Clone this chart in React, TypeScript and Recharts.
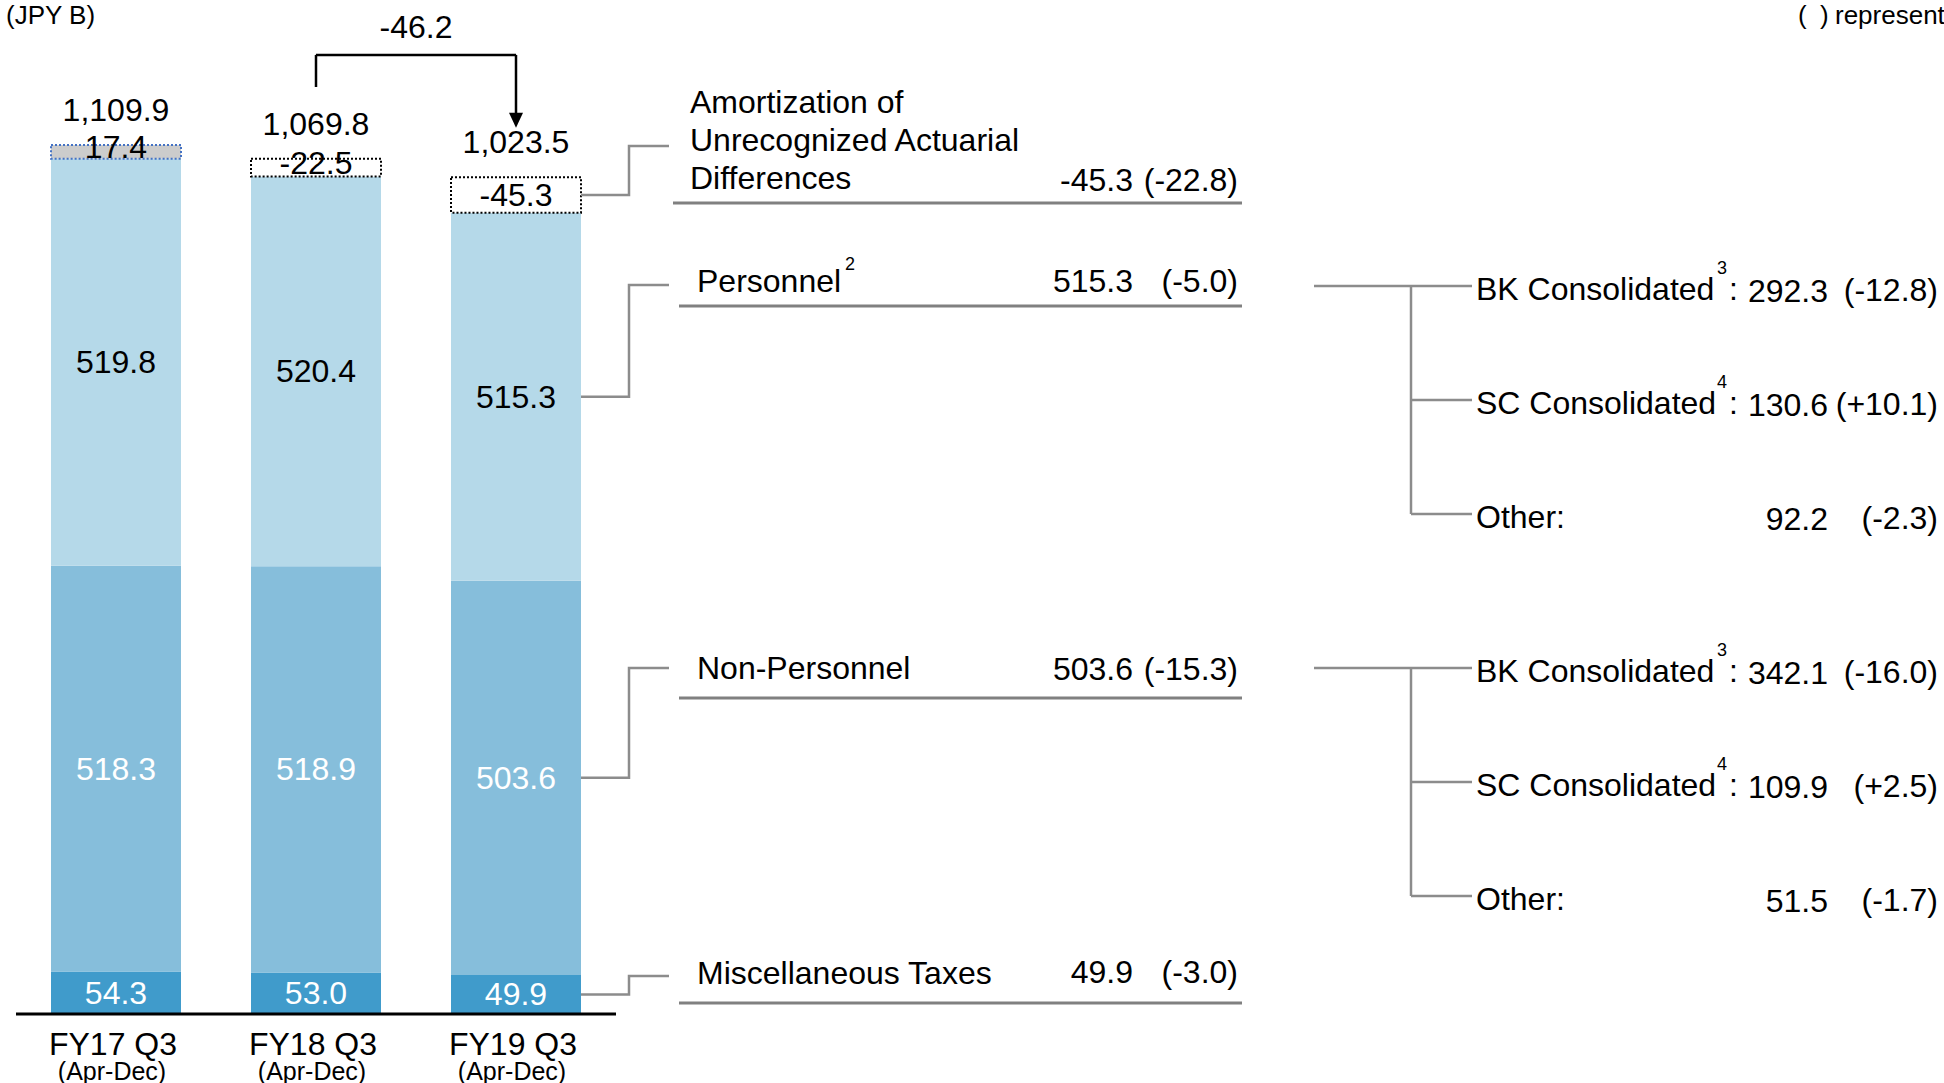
import { BarChart, Bar, XAxis, YAxis, LabelList, Cell, ReferenceLine } from 'recharts';

const categories = ['FY17 Q3', 'FY18 Q3', 'FY19 Q3'];
const periodLabel = '(Apr-Dec)';
const miscTaxes = [54.3, 53.0, 49.9];
const nonPersonnel = [518.3, 518.9, 503.6];
const personnel = [519.8, 520.4, 515.3];
const amortization = [17.4, -22.5, -45.3];
const totals = [1109.9, 1069.8, 1023.5];
const totalChange = '-46.2';

// right-hand breakdown (FY19 Q3 values, YoY change in brackets)
const segmentTitles = [
  ['Amortization of', 'Unrecognized Actuarial', 'Differences'],
  ['Personnel'],
  ['Non-Personnel'],
  ['Miscellaneous Taxes'],
];
const segmentNotes = ['', '2', '', ''];
const segmentValues = [-45.3, 515.3, 503.6, 49.9];
const segmentChanges = ['-22.8', '-5.0', '-15.3', '-3.0'];

const subNames = ['BK Consolidated', 'SC Consolidated', 'Other:'];
const subNotes = ['3', '4', ''];
const personnelSubValues = [292.3, 130.6, 92.2];
const personnelSubChanges = ['-12.8', '+10.1', '-2.3'];
const nonPersonnelSubValues = [342.1, 109.9, 51.5];
const nonPersonnelSubChanges = ['-16.0', '+2.5', '-1.7'];

const data = categories.map((name, i) => ({
  name,
  misc: miscTaxes[i],
  nonPersonnel: nonPersonnel[i],
  personnelShown: personnel[i] + Math.min(amortization[i], 0),
  amortBox: Math.abs(amortization[i]),
}));

const FONT = '"Liberation Sans", Arial, sans-serif';
const FS = 32;
const LIGHT = '#b5d9e9';
const MID = '#86bedb';
const DARK = '#409bcb';
const LINE_GREY = '#8c8c8c';

// y of each annotation row on the right (page px)
const rowY = [146, 285, 668, 976];
const rowBase = [191, 292, 680, 983];
const titleBase = [[113, 151, 189], [292], [679], [984]];
const underlineY = [203, 306, 698, 1003];

const fmtTotal = (v: number) =>
  v.toLocaleString('en-US', { minimumFractionDigits: 1, maximumFractionDigits: 1 });

const segLabel = (values: number[], color: string) => (props: any) => {
  const { x, y, width, height, index } = props;
  return (
    <text x={x + width / 2} y={y + height / 2 + 11} textAnchor="middle" fontSize={FS} fill={color} fontFamily={FONT}>
      {values[index].toFixed(1)}
    </text>
  );
};

const connector = (row: number) => (props: any) => {
  const { x, y, width, height, index } = props;
  if (index !== categories.length - 1) return null;
  const x0 = x + width;
  const y0 = y + height / 2;
  const xm = x0 + 48;
  return (
    <path d={`M${x0},${y0}H${xm}V${rowY[row]}H${xm + 40}`} fill="none" stroke={LINE_GREY} strokeWidth={2.5} />
  );
};

const amortLabel = (props: any) => {
  const { x, y, width, height, index } = props;
  const cy = y + height / 2 + 11 - (height < 25 ? 5 : 0);
  return (
    <g>
      <text x={x + width / 2} y={cy} textAnchor="middle" fontSize={FS} fill="#000" fontFamily={FONT}>
        {amortization[index].toFixed(1)}
      </text>
      <text x={x + width / 2} y={y - 35 + 11} textAnchor="middle" fontSize={FS} fill="#000" fontFamily={FONT}>
        {fmtTotal(totals[index])}
      </text>
    </g>
  );
};

const CategoryTick = (props: any) => {
  const { x, y, payload } = props;
  return (
    <g fontFamily={FONT} fill="#000">
      <text x={x - 3} y={y + 41} textAnchor="middle" fontSize={FS}>{payload.value}</text>
      <text x={x - 4} y={y + 66} textAnchor="middle" fontSize={25}>{periodLabel}</text>
    </g>
  );
};

const ArrowShape = (props: any) => {
  const { x1, y1, x2, y2 } = props;
  return (
    <g>
      <line x1={x1} y1={y1} x2={x2} y2={y2 - 12} stroke="#000" strokeWidth={2.5} />
      <polygon points={`${x2 - 7},${y2 - 15} ${x2 + 7},${y2 - 15} ${x2},${y2}`} fill="#000" />
    </g>
  );
};

// bracket levels in chart units
const bracketTop = 1225;
const bracketStart = 1184;
const arrowTip = 1132;

function SubTree({ top, values, changes }: { top: number; values: number[]; changes: string[] }) {
  const step = 114;
  const ys = subNames.map((_, i) => top + i * step);
  return (
    <g>
      <path d={`M1314,${top}H1411`} stroke={LINE_GREY} strokeWidth={2.5} fill="none" />
      <path d={`M1411,${top}V${ys[ys.length - 1]}`} stroke={LINE_GREY} strokeWidth={2.5} fill="none" />
      {ys.map((yy, i) => (
        <g key={i}>
          <path d={`M1411,${yy}H1472`} stroke={LINE_GREY} strokeWidth={2.5} fill="none" />
          <text x={1476} y={yy + 14} fontSize={FS}>{subNames[i]}</text>
          {subNotes[i] && (
            <text x={1722} y={yy - 12} fontSize={18} textAnchor="middle">{subNotes[i]}</text>
          )}
          {subNotes[i] && <text x={1729} y={yy + 14} fontSize={FS}>:</text>}
          <text x={1828} y={yy + 16} fontSize={FS} textAnchor="end">{values[i].toFixed(1)}</text>
          <text x={1938} y={yy + 15} fontSize={FS} textAnchor="end">({changes[i]})</text>
        </g>
      ))}
    </g>
  );
}

export default function App() {
  return (
    <div style={{ position: 'absolute', left: 0, top: 0, width: 1944, height: 1083, background: '#fff', overflow: 'hidden' }}>
      <div style={{ position: 'absolute', left: 0, top: 0 }}>
        <BarChart
          width={1944}
          height={1083}
          data={data}
          margin={{ top: 4, right: 1328, bottom: 0, left: 16 }}
          barSize={130}
        >
          <XAxis
            dataKey="name"
            axisLine={{ stroke: '#000', strokeWidth: 3 }}
            tickLine={false}
            tickSize={0}
            tickMargin={0}
            height={69}
            interval={0}
            tick={<CategoryTick />}
          />
          <YAxis hide domain={[0, 1290]} />
          <Bar dataKey="misc" stackId="a" fill={DARK} isAnimationActive={false}>
            <LabelList dataKey="misc" content={segLabel(miscTaxes, '#fff')} />
            <LabelList dataKey="misc" content={connector(3)} />
          </Bar>
          <Bar dataKey="nonPersonnel" stackId="a" fill={MID} isAnimationActive={false}>
            <LabelList dataKey="nonPersonnel" content={segLabel(nonPersonnel, '#fff')} />
            <LabelList dataKey="nonPersonnel" content={connector(2)} />
          </Bar>
          <Bar dataKey="personnelShown" stackId="a" fill={LIGHT} isAnimationActive={false}>
            <LabelList dataKey="personnelShown" content={segLabel(personnel, '#000')} />
            <LabelList dataKey="personnelShown" content={connector(1)} />
          </Bar>
          <Bar dataKey="amortBox" stackId="a" isAnimationActive={false}>
            {amortization.map((a, i) => (
              <Cell
                key={i}
                fill={a >= 0 ? '#cccccc' : '#ffffff'}
                stroke={a >= 0 ? '#4472c4' : '#000000'}
                strokeWidth={2}
                strokeDasharray="2 2"
              />
            ))}
            <LabelList dataKey="amortBox" content={amortLabel} />
            <LabelList dataKey="amortBox" content={connector(0)} />
          </Bar>
          <ReferenceLine
            segment={[{ x: categories[1], y: bracketStart }, { x: categories[1], y: bracketTop }]}
            stroke="#000"
            strokeWidth={2.5}
          />
          <ReferenceLine
            segment={[{ x: categories[1], y: bracketTop }, { x: categories[2], y: bracketTop }]}
            stroke="#000"
            strokeWidth={2.5}
          />
          <ReferenceLine
            segment={[{ x: categories[2], y: bracketTop }, { x: categories[2], y: arrowTip }]}
            stroke="#000"
            strokeWidth={2.5}
            shape={ArrowShape}
          />
        </BarChart>
      </div>
      <svg
        width={1944}
        height={1083}
        style={{ position: 'absolute', left: 0, top: 0, pointerEvents: 'none' }}
        fontFamily={FONT}
        fill="#000"
      >
        <text x={6} y={24} fontSize={26}>(JPY B)</text>
        <text x={1798} y={24} fontSize={26}>(</text>
        <text x={1820} y={24} fontSize={26}>)</text>
        <text x={1835} y={24} fontSize={26}>represent</text>
        <text x={416} y={38} fontSize={FS} textAnchor="middle">{totalChange}</text>

        {segmentTitles.map((lines, r) => (
          <g key={r}>
            {lines.map((ln, k) => (
              <text key={k} x={r === 0 ? 690 : 697} y={titleBase[r][k]} fontSize={FS}>{ln}</text>
            ))}
            {segmentNotes[r] && (
              <text x={850} y={rowY[r] - 15} fontSize={18} textAnchor="middle">{segmentNotes[r]}</text>
            )}
            <text x={1133} y={rowBase[r]} fontSize={FS} textAnchor="end">{segmentValues[r].toFixed(1)}</text>
            <text x={1238} y={rowBase[r]} fontSize={FS} textAnchor="end">({segmentChanges[r]})</text>
            <line x1={r === 0 ? 673 : 679} x2={1242} y1={underlineY[r]} y2={underlineY[r]} stroke="#808080" strokeWidth={3} />
          </g>
        ))}

        <SubTree top={286} values={personnelSubValues} changes={personnelSubChanges} />
        <SubTree top={668} values={nonPersonnelSubValues} changes={nonPersonnelSubChanges} />
      </svg>
    </div>
  );
}
